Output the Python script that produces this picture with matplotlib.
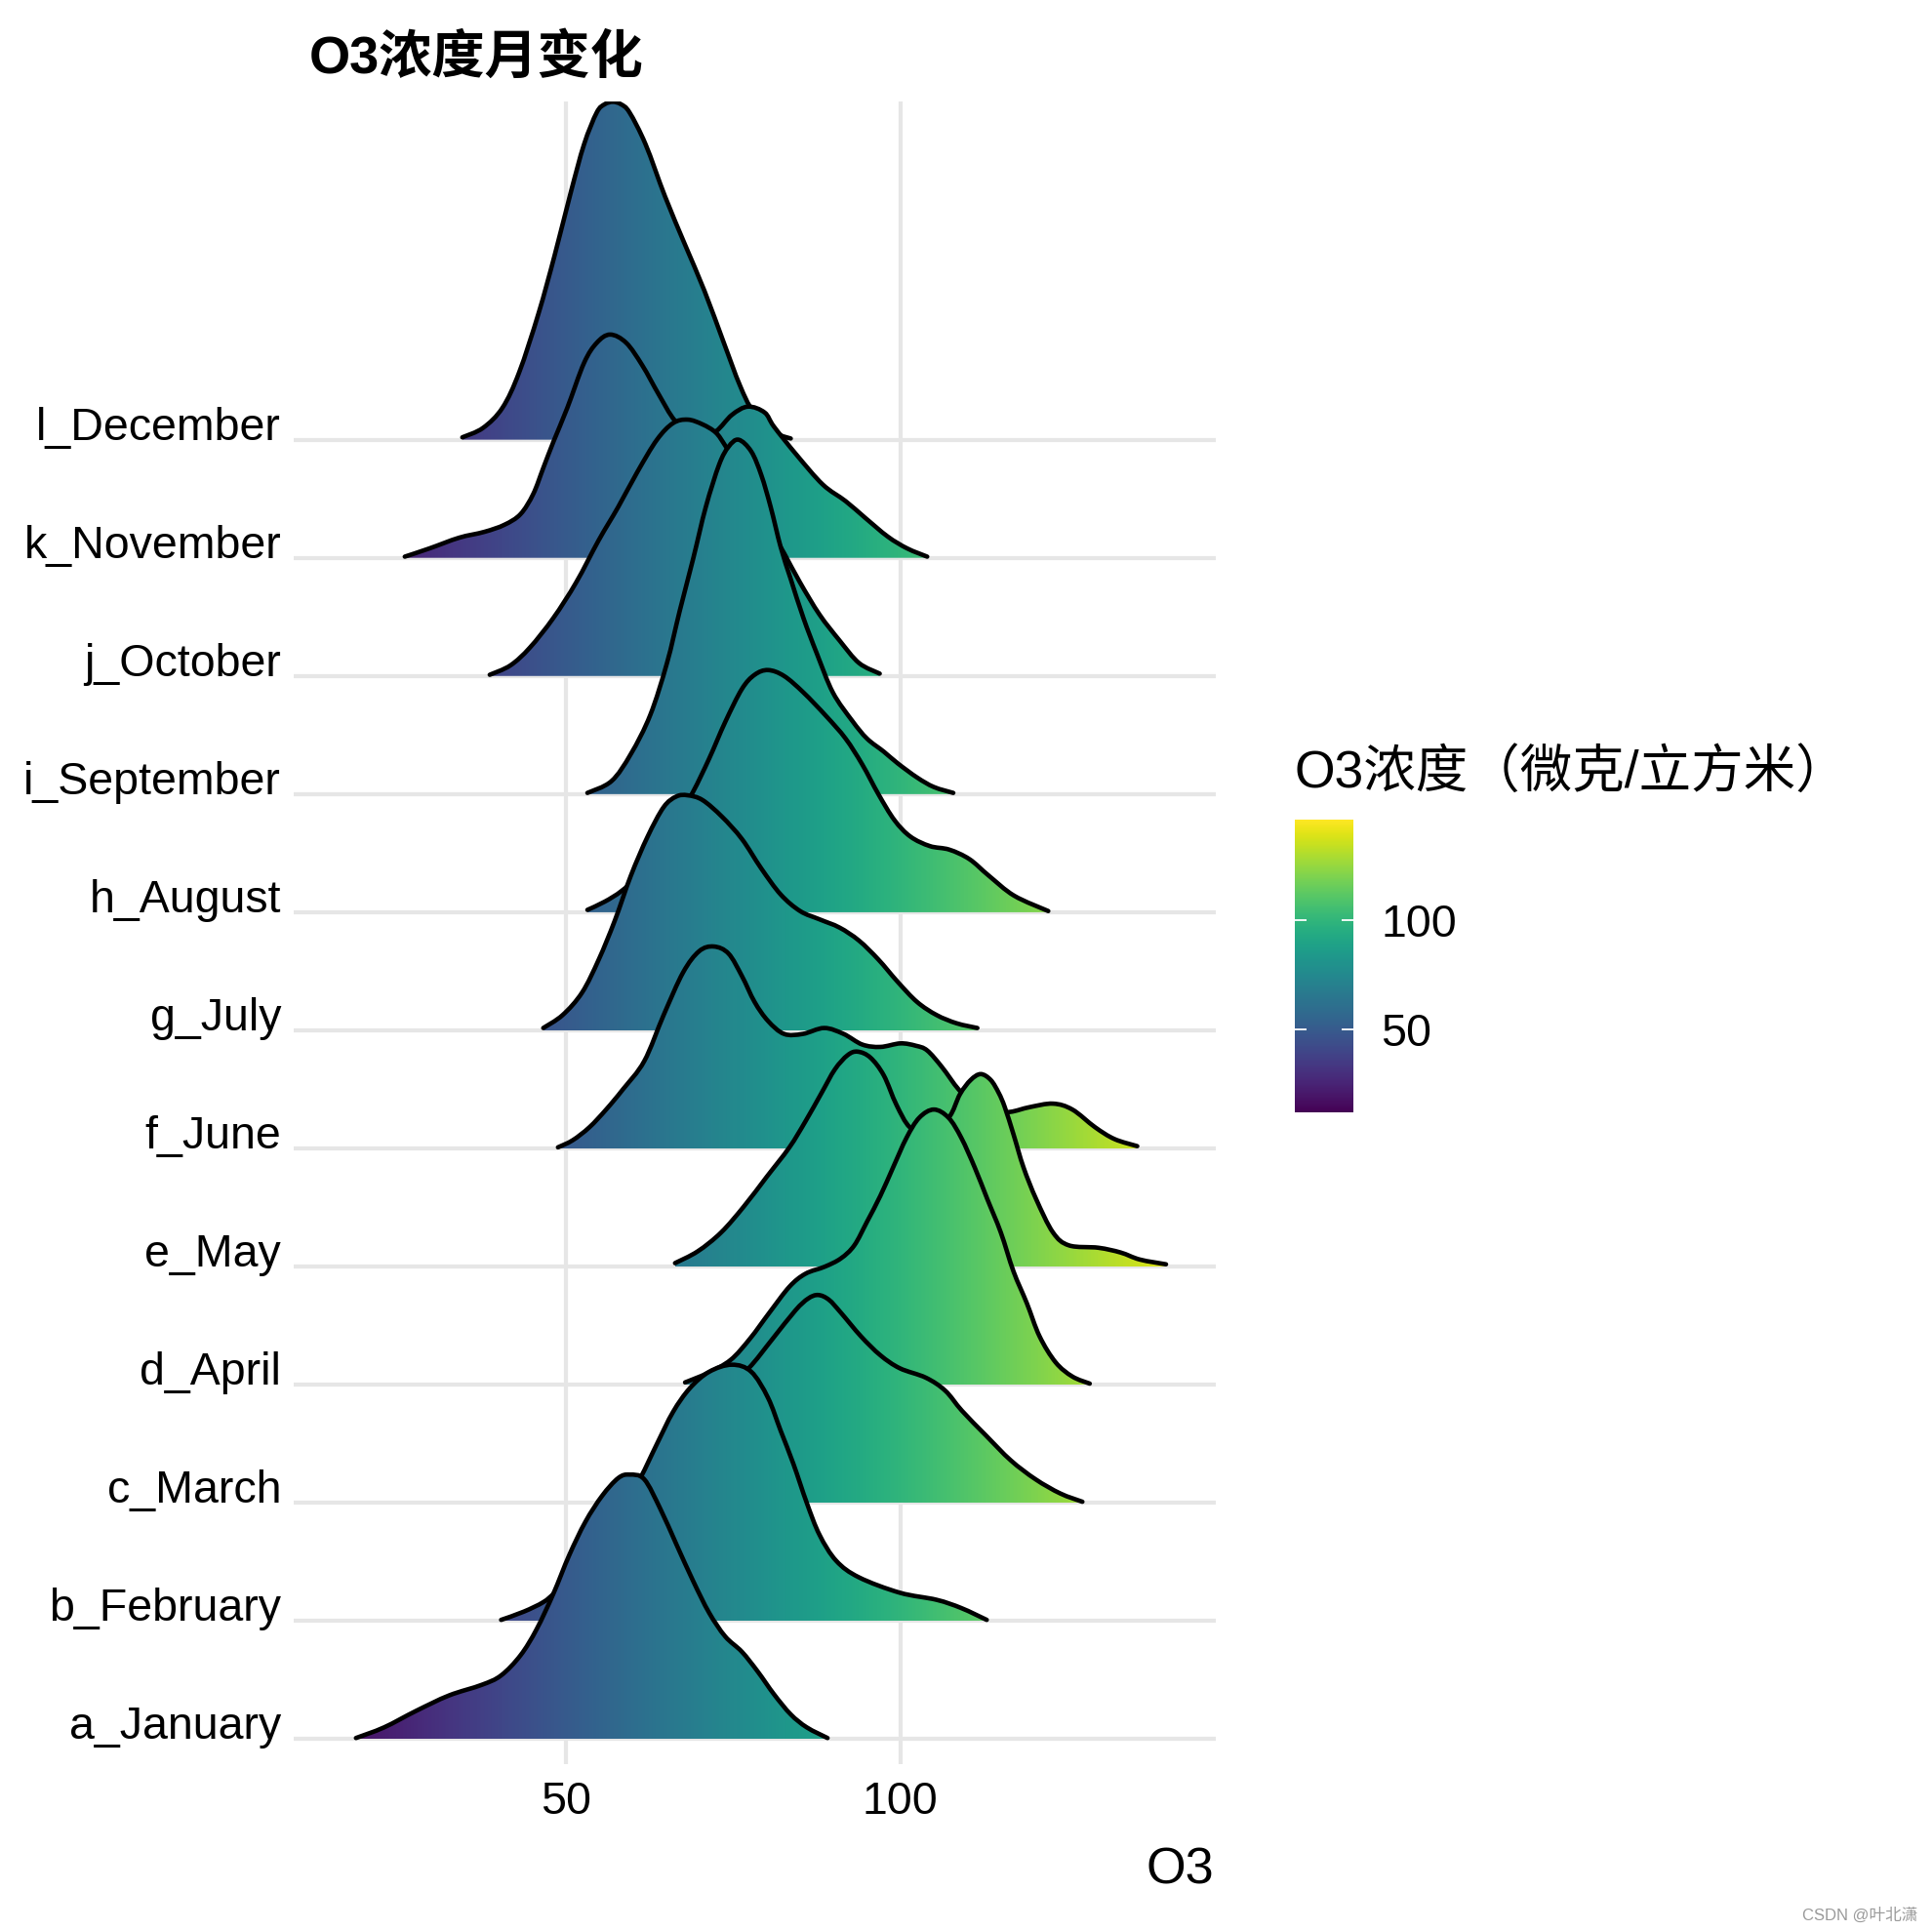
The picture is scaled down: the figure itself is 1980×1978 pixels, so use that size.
import numpy as np
import matplotlib
matplotlib.use("Agg")
import matplotlib.pyplot as plt
from matplotlib.patches import PathPatch
from matplotlib.path import Path
from matplotlib.colors import Normalize

# ---------------- data ----------------
months = ["a_January", "b_February", "c_March", "d_April", "e_May", "f_June",
          "g_July", "h_August", "i_September", "j_October", "k_November", "l_December"]

# ridge outlines: O3 value (x) and ridge height in row units (h)
jan_x = [18.6, 22.8, 27.6, 32.5, 37.4, 40.3, 43.2, 45.6, 48.1, 50.5, 52.9, 55.4, 57.8, 59.5,
         61.7, 64.1, 66.5, 69.0, 71.4, 73.8, 76.3, 78.7, 81.1, 83.6, 86.0, 89.1]
jan_h = [0.01, 0.10, 0.24, 0.37, 0.46, 0.54, 0.71, 0.93, 1.23, 1.56, 1.84, 2.06, 2.21, 2.24,
         2.20, 1.95, 1.65, 1.34, 1.07, 0.87, 0.74, 0.57, 0.38, 0.21, 0.10, 0.01]

feb_x = [40.3, 43.7, 46.6, 48.3, 51.0, 54.0, 57.0, 59.5, 61.2, 63.6, 66.0, 68.5, 71.4, 74.8,
         77.7, 80.2, 82.1, 84.0, 86.0, 87.9, 90.4, 93.8, 99.9, 105.4, 109.1, 112.9]
feb_h = [0.01, 0.08, 0.16, 0.24, 0.40, 0.62, 0.85, 1.07, 1.22, 1.50, 1.77, 1.97, 2.11, 2.17,
         2.11, 1.89, 1.61, 1.33, 1.00, 0.73, 0.51, 0.37, 0.24, 0.18, 0.11, 0.01]

mar_x = [58.0, 62.0, 66.0, 70.0, 74.0, 77.3, 80.9, 84.3, 86.2, 87.7, 89.3, 91.1, 94.1, 97.0,
         99.9, 103.8, 106.7, 109.2, 112.8, 116.5, 120.2, 123.9, 127.2]
mar_h = [0.01, 0.15, 0.45, 0.80, 1.00, 1.14, 1.39, 1.63, 1.73, 1.76, 1.72, 1.61, 1.41, 1.25,
         1.14, 1.06, 0.95, 0.78, 0.57, 0.36, 0.20, 0.08, 0.01]

apr_x = [67.8, 71.2, 74.6, 77.5, 80.4, 83.4, 85.8, 88.7, 91.1, 93.1, 95.0, 97.0, 98.9, 100.9,
         102.8, 105.0, 107.2, 109.1, 111.1, 113.0, 115.0, 116.9, 118.9, 120.8, 123.2, 125.7, 128.3]
apr_h = [0.02, 0.10, 0.21, 0.39, 0.61, 0.83, 0.94, 1.00, 1.07, 1.18, 1.38, 1.60, 1.84, 2.09,
         2.26, 2.33, 2.26, 2.09, 1.84, 1.57, 1.29, 0.96, 0.69, 0.41, 0.19, 0.07, 0.01]

may_x = [66.3, 69.7, 73.2, 76.6, 80.0, 83.4, 85.8, 88.2, 90.2, 92.1, 93.6, 95.5, 97.5, 99.4,
         101.4, 104.0, 107.2, 108.9, 110.5, 112.0, 113.5, 114.7, 115.6, 116.9, 118.4, 120.3,
         122.8, 125.2, 129.6, 132.9, 135.8, 139.7]
may_h = [0.03, 0.13, 0.29, 0.51, 0.76, 1.01, 1.23, 1.47, 1.67, 1.79, 1.82, 1.77, 1.62, 1.37,
         1.18, 1.13, 1.26, 1.46, 1.58, 1.63, 1.58, 1.47, 1.35, 1.12, 0.84, 0.57,
         0.29, 0.18, 0.16, 0.12, 0.06, 0.02]

jun_x = [48.8, 51.0, 53.5, 56.0, 58.5, 61.7, 64.6, 67.5, 69.9, 72.1, 74.3, 76.3, 78.2, 80.2,
         82.6, 85.4, 88.6, 91.5, 94.3, 97.0, 100.0, 102.3, 104.0, 106.2, 108.7, 111.0, 113.5,
         116.4, 119.3, 122.8, 125.7, 129.1, 132.0, 135.4]
jun_h = [0.01, 0.07, 0.18, 0.33, 0.50, 0.74, 1.13, 1.49, 1.67, 1.71, 1.65, 1.46, 1.24, 1.08,
         0.97, 0.97, 1.02, 0.97, 0.88, 0.86, 0.89, 0.87, 0.83, 0.69, 0.50, 0.38, 0.31,
         0.31, 0.35, 0.38, 0.33, 0.18, 0.08, 0.02]

jul_x = [46.6, 49.5, 52.4, 54.9, 57.3, 59.7, 62.2, 64.6, 66.5, 68.2, 70.4, 73.3, 76.3, 79.2,
         82.1, 85.0, 87.9, 90.9, 93.8, 96.7, 99.6, 102.5, 105.4, 108.4, 111.5]
jul_h = [0.02, 0.13, 0.32, 0.60, 0.93, 1.31, 1.64, 1.89, 1.98, 1.99, 1.95, 1.81, 1.62, 1.37,
         1.15, 1.01, 0.94, 0.87, 0.76, 0.60, 0.41, 0.24, 0.13, 0.06, 0.02]

aug_x = [53.2, 55.8, 58.3, 61.0, 64.0, 66.5, 69.0, 71.4, 73.8, 76.3, 78.2, 80.2, 82.6, 85.5,
         88.9, 91.8, 94.3, 96.7, 99.1, 101.5, 104.4, 107.3, 110.3, 113.2, 117.0, 122.1]
aug_h = [0.02, 0.09, 0.18, 0.32, 0.55, 0.78, 1.02, 1.30, 1.61, 1.89, 2.01, 2.05, 2.00, 1.86,
         1.66, 1.47, 1.25, 1.00, 0.78, 0.64, 0.56, 0.53, 0.45, 0.31, 0.14, 0.01]

sep_x = [53.2, 56.8, 59.7, 62.6, 65.1, 67.0, 69.0, 70.9, 72.9, 74.3, 75.8, 77.7, 79.2, 80.6,
         82.1, 83.6, 85.5, 87.5, 89.9, 92.8, 95.0, 97.5, 99.6, 102.5, 105.0, 107.9]
sep_h = [0.01, 0.11, 0.34, 0.67, 1.11, 1.55, 1.99, 2.43, 2.79, 2.94, 3.00, 2.90, 2.70, 2.43,
         2.09, 1.82, 1.49, 1.19, 0.86, 0.62, 0.47, 0.36, 0.26, 0.14, 0.06, 0.01]

oct_x = [38.6, 41.7, 44.6, 48.1, 51.5, 54.9, 57.8, 60.7, 63.6, 66.0, 68.2, 70.4, 72.4, 73.8,
         76.0, 78.5, 80.5, 82.6, 85.0, 87.9, 90.9, 93.8, 96.9]
oct_h = [0.01, 0.09, 0.24, 0.49, 0.79, 1.15, 1.43, 1.73, 2.00, 2.14, 2.17, 2.13, 2.06, 1.95,
         1.75, 1.50, 1.25, 1.04, 0.79, 0.52, 0.30, 0.11, 0.02]

nov_x = [25.9, 29.6, 34.0, 37.8, 40.8, 43.2, 45.1, 46.6, 48.1, 50.2, 52.7, 54.6, 56.6, 59.0,
         61.4, 63.9, 66.3, 69.5, 72.4, 74.8, 77.2, 79.7, 81.1, 84.5, 88.4, 91.8, 94.7, 98.1,
         101.0, 104.0]
nov_h = [0.01, 0.08, 0.17, 0.22, 0.28, 0.37, 0.54, 0.76, 0.98, 1.27, 1.65, 1.82, 1.89, 1.82,
         1.63, 1.38, 1.16, 1.00, 1.07, 1.21, 1.28, 1.23, 1.11, 0.87, 0.62, 0.48, 0.34, 0.18,
         0.08, 0.01]

dec_x = [34.5, 37.6, 40.5, 43.0, 45.9, 48.3, 50.7, 52.7, 54.6, 55.8, 57.0, 58.2, 59.5, 61.9,
         64.8, 67.8, 70.7, 73.6, 76.0, 78.0, 81.4, 83.6]
dec_h = [0.02, 0.10, 0.27, 0.57, 1.07, 1.56, 2.09, 2.50, 2.77, 2.84, 2.86, 2.84, 2.77, 2.50,
         2.06, 1.65, 1.26, 0.82, 0.46, 0.24, 0.06, 0.01]

ridge_x = [jan_x, feb_x, mar_x, apr_x, may_x, jun_x, jul_x, aug_x, sep_x, oct_x, nov_x, dec_x]
ridge_h = [jan_h, feb_h, mar_h, apr_h, may_h, jun_h, jul_h, aug_h, sep_h, oct_h, nov_h, dec_h]

x_ticks = [50, 100]
cbar_ticks = [50, 100]
fill_min, fill_max = 12.0, 146.2

title = "O3浓度月变化"
legend_title = "O3浓度（微克/立方米）"
x_label = "O3"


def smooth_codes(px, py):
    """Catmull-Rom style cubic Bezier path through the read points (drawing only)."""
    P = np.column_stack([px, py])
    m = len(P)
    verts = [P[0]]
    codes = [Path.MOVETO]
    for i in range(m - 1):
        p_prev = P[i - 1] if i > 0 else P[i]
        p_next2 = P[i + 2] if i + 2 < m else P[i + 1]
        c1 = P[i] + (P[i + 1] - p_prev) / 6.0
        c2 = P[i + 1] - (p_next2 - P[i]) / 6.0
        verts += [c1, c2, P[i + 1]]
        codes += [Path.CURVE4] * 3
    return verts, codes


# ---------------- figure ----------------
W, H = 1981, 1978
fig = plt.figure(figsize=(W / 100, H / 100), dpi=100)
fam = ["Liberation Sans", "Noto Sans CJK SC"]
plt.rcParams["font.family"] = fam

ax_l, ax_r, ax_t, ax_b = 300.7, 1245.7, 104.0, 1808.0
ax = fig.add_axes([ax_l / W, 1 - ax_b / H, (ax_r - ax_l) / W, (ax_b - ax_t) / H])

cmap = plt.get_cmap("viridis")
norm = Normalize(vmin=fill_min, vmax=fill_max)
grid_c = "#E6E6E6"

for v in x_ticks:
    ax.axvline(v, color=grid_c, lw=3.0, zorder=0)
for i in range(len(months)):
    ax.axhline(i + 1, color=grid_c, lw=3.0, zorder=0)

n = len(months)
for i in range(n - 1, -1, -1):
    xs = np.asarray(ridge_x[i], float)
    hs = np.asarray(ridge_h[i], float)
    base = i + 1
    z = 10 + (n - i) * 2
    cv, cc = smooth_codes(xs, base + hs)
    # closed fill outline: baseline -> curve -> baseline
    fv = [(xs[0], base)] + [tuple(v) for v in cv] + [(xs[-1], base), (xs[0], base)]
    fc = [Path.MOVETO, Path.LINETO] + cc[1:] + [Path.LINETO, Path.CLOSEPOLY]
    clip = PathPatch(Path(fv, fc), facecolor="none", edgecolor="none",
                     transform=ax.transData)
    ax.add_patch(clip)
    grad = np.linspace(xs[0], xs[-1], 800)[None, :]
    im = ax.imshow(grad, extent=[xs[0], xs[-1], base, base + hs.max() + 0.05],
                   origin="lower", cmap=cmap, norm=norm, aspect="auto",
                   interpolation="bilinear", zorder=z)
    im.set_clip_path(clip)
    line = PathPatch(Path(cv, cc), facecolor="none", edgecolor="black", lw=3.3,
                     joinstyle="round", capstyle="round", zorder=z + 1)
    ax.add_patch(line)

ax.set_xlim(9.25, 147.1)
ax.set_ylim(0.789, 14.863)
for s in ax.spines.values():
    s.set_visible(False)
ax.set_xticks(x_ticks)
ax.set_xticklabels([str(t) for t in x_ticks])
ax.set_yticks(range(1, n + 1))
ax.set_yticklabels(months)
ax.tick_params(axis="both", length=0, labelsize=33.5, labelcolor="black")
ax.tick_params(axis="y", pad=9)
ax.tick_params(axis="x", pad=12)
for lab in ax.get_yticklabels():
    lab.set_va("baseline")
    lab.set_family(fam)
for lab in ax.get_xticklabels():
    lab.set_family(fam)

# titles
fig.text(316.7 / W, 1 - 75 / H, title, fontsize=39, fontweight="bold",
         family=fam, ha="left", va="baseline")
fig.text(1244 / W, 1 - 1916.6 / H, x_label, fontsize=37.5, family=fam,
         ha="right", va="center")

# colour bar legend
cb_l, cb_r, cb_t, cb_b = 1326.7, 1387.3, 840.0, 1140.0
cax = fig.add_axes([cb_l / W, 1 - cb_b / H, (cb_r - cb_l) / W, (cb_b - cb_t) / H])
sm = matplotlib.cm.ScalarMappable(norm=norm, cmap=cmap)
cb = fig.colorbar(sm, cax=cax, ticks=cbar_ticks)
cb.outline.set_visible(False)
cax.tick_params(length=0, labelsize=33.5, pad=20)
for lab in cax.get_yticklabels():
    lab.set_family(fam)
for v in cbar_ticks:
    cax.plot([0, 0.2], [v, v], color="white", lw=1.3, solid_capstyle="butt")
    cax.plot([0.8, 1.0], [v, v], color="white", lw=1.3, solid_capstyle="butt")
cax.set_xlim(0, 1)
fig.text(1327 / W, 1 - 807 / H, legend_title, fontsize=38.5, family=fam,
         ha="left", va="baseline")

fig.text(1965 / W, 1 - 1968 / H, "CSDN @叶北潇", fontsize=12, color="#9A9A9A",
         family=fam, ha="right", va="baseline")

fig.savefig("out.png", dpi=100, facecolor="white")
